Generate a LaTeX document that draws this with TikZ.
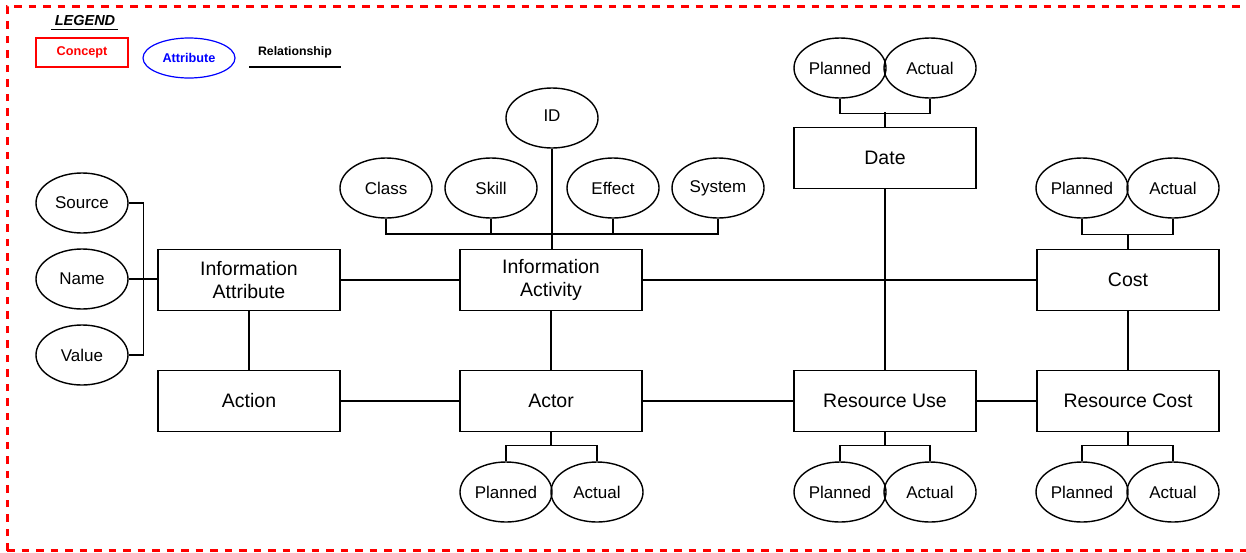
\documentclass[tikz,border=0pt]{standalone}
\usepackage{fontspec}
\setmainfont{Liberation Sans}
\usetikzlibrary{shapes.geometric}
\tikzset{
  concept/.style={draw, line width=1.4pt, rectangle, minimum width=182pt, minimum height=61pt,
    inner sep=0pt, align=center, font=\fontsize{19.5}{23}\selectfont},
  attr/.style={draw, line width=1.4pt, ellipse, minimum width=92pt, minimum height=60pt,
    inner sep=0pt, font=\fontsize{17}{20}\selectfont},
  link/.style={line width=1.4pt},
  frame/.style={draw=red, line width=3pt, dash pattern=on 7.5pt off 7pt},
}
\begin{document}
\begin{tikzpicture}[x=1pt, y=-1pt]
\useasboundingbox (0,0) rectangle (1246,552);
\begin{scope}
\clip (0,0) rectangle (1246,552);
\draw[frame] (7,550.5) -- (7,6.5) -- (1260,6.5);
\draw[frame] (7,550.5) -- (1260,550.5);
\end{scope}

% legend
\node[font=\fontsize{14.5}{17}\bfseries\itshape\selectfont, inner sep=0pt] (lgd) at (85,21) {LEGEND};
\draw[line width=1.2pt] (51,29.5) -- (118,29.5);
\node[draw=red, line width=1.2pt, minimum width=92pt, minimum height=29pt, inner sep=0pt,
  text=red, font=\fontsize{12.7}{15}\bfseries\selectfont] (lconcept) at (82,52.5) {Concept};
\node[draw=blue, line width=1.2pt, ellipse, minimum width=92pt, minimum height=40pt, inner sep=0pt,
  text=blue, font=\fontsize{12.7}{15}\bfseries\selectfont] (lattr) at (189,58) {Attribute};
\node[font=\fontsize{12.3}{15}\bfseries\selectfont, inner sep=0pt] (lrel) at (295,52.5) {Relationship};
\coordinate (lrelA) at (249,67);
\coordinate (lrelB) at (341,67);
\draw[line width=1.1pt] (lrelA) -- (lrelB);

% concepts
\node[concept] (infoattr) at (249,280) {Information\\Attribute};
\node[concept] (action)   at (249,401) {Action};
\node[concept] (infoact)  at (551,280) {Information\\Activity};
\node[concept] (actor)    at (551,401) {Actor};
\node[concept] (date)     at (885,158) {Date};
\node[concept] (resuse)   at (885,401) {Resource Use};
\node[concept] (cost)     at (1128,280) {Cost};
\node[concept] (rescost)  at (1128,401) {Resource Cost};

% attributes of Information Attribute
\node[attr] (source) at (82,203) {Source};
\node[attr] (name)   at (82,279) {Name};
\node[attr] (value)  at (82,355) {Value};
\draw[link] (source.east) -- ++(15,0) |- (value.east);
\draw[link] (name.east) -- (infoattr.west |- name.east);

% attributes of Information Activity
\node[attr, text depth=5pt] (id) at (552,118) {ID};
\node[attr] (class)  at (386,188) {Class};
\node[attr] (skill)  at (491,188) {Skill};
\node[attr] (effect) at (613,188) {Effect};
\node[attr] (system) at (718,188) {System};
\coordinate (busL) at (386,234);
\coordinate (busR) at (718,234);
\draw[link] (class.south) -- (busL) -- (busR) -- (system.south);
\draw[link] (skill.south) -- (skill.south |- busL);
\draw[link] (effect.south) -- (effect.south |- busL);
\draw[link] (id.south) -- (infoact.north -| id.south);

% planned / actual pairs
\node[attr] (dplan) at (840,68) {Planned};
\node[attr] (dact)  at (930,68) {Actual};
\draw[link] (dplan.south) -- ++(0,15) -| (dact.south);
\draw[link] (date.north) -- ++(0,-15);

\node[attr] (cplan) at (1082,188) {Planned};
\node[attr] (cact)  at (1173,188) {Actual};
\draw[link] (cplan.south) -- ++(0,16) -| (cact.south);
\draw[link] (cost.north) -- ++(0,-15);

\node[attr] (aplan) at (506,492) {Planned};
\node[attr] (aact)  at (597,492) {Actual};
\draw[link] (aplan.north) -- ++(0,-16) -| (aact.north);
\draw[link] (actor.south) -- ++(0,14);

\node[attr] (uplan) at (840,492) {Planned};
\node[attr] (uact)  at (930,492) {Actual};
\draw[link] (uplan.north) -- ++(0,-16) -| (uact.north);
\draw[link] (resuse.south) -- ++(0,14);

\node[attr] (rplan) at (1082,492) {Planned};
\node[attr] (ract)  at (1173,492) {Actual};
\draw[link] (rplan.north) -- ++(0,-16) -| (ract.north);
\draw[link] (rescost.south) -- ++(0,14);

% relationships
\draw[link] (infoattr) -- (infoact);
\draw[link] (infoact) -- (cost);
\draw[link] (infoattr) -- (action);
\draw[link] (infoact) -- (actor);
\draw[link] (action) -- (actor);
\draw[link] (actor) -- (resuse);
\draw[link] (resuse) -- (rescost);
\draw[link] (date) -- (resuse);
\draw[link] (cost) -- (rescost);
\end{tikzpicture}
\end{document}
